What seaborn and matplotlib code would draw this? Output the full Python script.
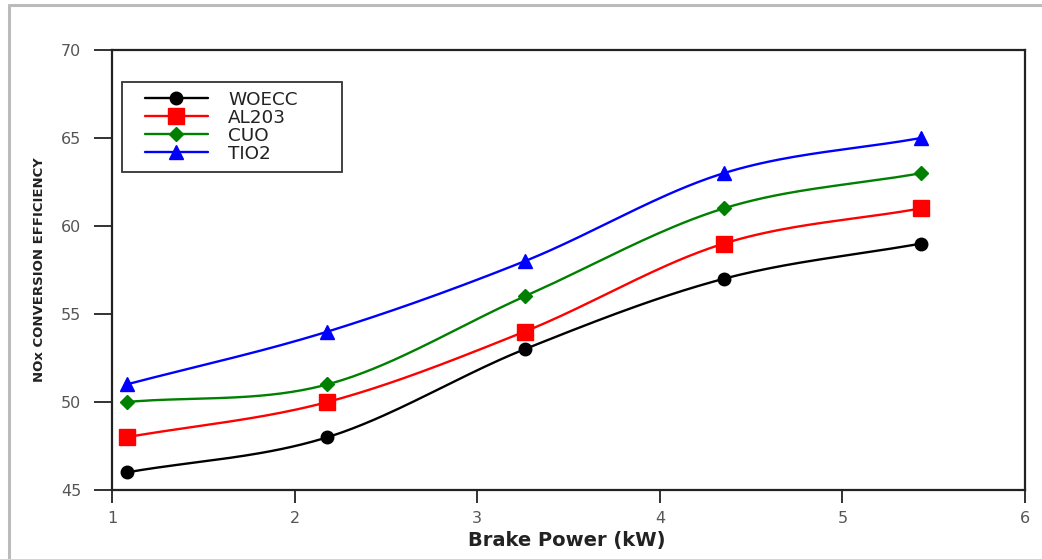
import numpy as np
import pandas as pd
import matplotlib
matplotlib.use("Agg")
import matplotlib.pyplot as plt
import seaborn as sns
from matplotlib.lines import Line2D
from matplotlib.patches import Rectangle

# data
brake_power = [1.08, 2.18, 3.26, 4.35, 5.43]
woecc = [46, 48, 53, 57, 59]
al2o3 = [48, 50, 54, 59, 61]
cuo = [50, 51, 56, 61, 63]
tio2 = [51, 54, 58, 63, 65]

series_names = ["WOECC", "AL203", "CUO", "TIO2"]
series_values = [woecc, al2o3, cuo, tio2]
colors = ["black", "#ff0000", "#008000", "#0000ff"]
markers = ["o", "s", "D", "^"]
marker_sizes = [9, 11.5, 7, 10]


def smooth_curve(x, y, n=40):
    # cubic hermite through the points, tangents from neighbouring points
    x = np.asarray(x, float)
    y = np.asarray(y, float)
    m = np.gradient(y, x)
    xs, ys = [], []
    for i in range(len(x) - 1):
        h = x[i + 1] - x[i]
        t = np.linspace(0, 1, n)
        h00 = 2 * t**3 - 3 * t**2 + 1
        h10 = t**3 - 2 * t**2 + t
        h01 = -2 * t**3 + 3 * t**2
        h11 = t**3 - t**2
        xs.append(x[i] + t * h)
        ys.append(h00 * y[i] + h10 * h * m[i] + h01 * y[i + 1] + h11 * h * m[i + 1])
    return np.concatenate(xs), np.concatenate(ys)


sns.set_style("white")
plt.rcParams["font.family"] = ["DejaVu Sans"]

fig = plt.figure(figsize=(10.42, 5.59), dpi=100)
ax = fig.add_axes([0.1075, 0.1234, 0.8762, 0.7872])

for name, vals, c, mk, ms in zip(series_names, series_values, colors, markers, marker_sizes):
    cx, cy = smooth_curve(brake_power, vals)
    curve = pd.DataFrame({"x": cx, "y": cy})
    sns.lineplot(data=curve, x="x", y="y", ax=ax, color=c, lw=1.7, sort=False)
    pts = pd.DataFrame({"x": brake_power, "y": vals})
    ax.plot(pts["x"], pts["y"], ls="none", marker=mk, color=c, ms=ms, mec=c)

ax.set_xlim(1, 6)
ax.set_ylim(45, 70)
ax.set_xticks([1, 2, 3, 4, 5, 6])
ax.set_yticks([45, 50, 55, 60, 65, 70])

for s in ax.spines.values():
    s.set_color("#222222")
    s.set_linewidth(1.6)

ax.tick_params(axis="both", direction="out", width=1.3, color="#222222",
               labelsize=11.5, labelcolor="#555555", bottom=True, left=True)
ax.tick_params(axis="x", length=9.4, pad=5.5)
ax.tick_params(axis="y", length=13, pad=9)

ax.set_xlabel("Brake Power (kW)", fontsize=14, fontweight="bold", color="#222222")
ax.xaxis.set_label_coords(0.498, -0.093)
ax.set_ylabel("NOx CONVERSION EFFICIENCY", fontsize=9.5, fontweight="bold", color="#222222")
ax.yaxis.set_label_coords(-0.072, 0.5)

handles = [Line2D([0], [0], color=c, lw=1.7, marker=mk, ms=ms, mec=c)
           for c, mk, ms in zip(colors, markers, marker_sizes)]
leg = ax.legend(handles, series_names, loc="upper left", bbox_to_anchor=(0.036, 0.907),
                frameon=False, fontsize=13.2, handlelength=3.44,
                labelspacing=0.0, borderpad=0, handletextpad=1.1, borderaxespad=0)
for t in leg.get_texts():
    t.set_color("#222222")
ax.add_patch(Rectangle((0.011, 0.723), 0.241, 0.204, transform=ax.transAxes,
                       fill=False, edgecolor="#333333", lw=1.3, zorder=5))

# light grey frame around the image (only top and left visible in reference)
fig.add_artist(Line2D([0.0087, 1.0], [0.991, 0.991], color="#bbbbbb", lw=2.2, transform=fig.transFigure))
fig.add_artist(Line2D([0.0087, 0.0087], [0.0, 0.991], color="#bbbbbb", lw=2.2, transform=fig.transFigure))

fig.savefig("out.png", dpi=100)
